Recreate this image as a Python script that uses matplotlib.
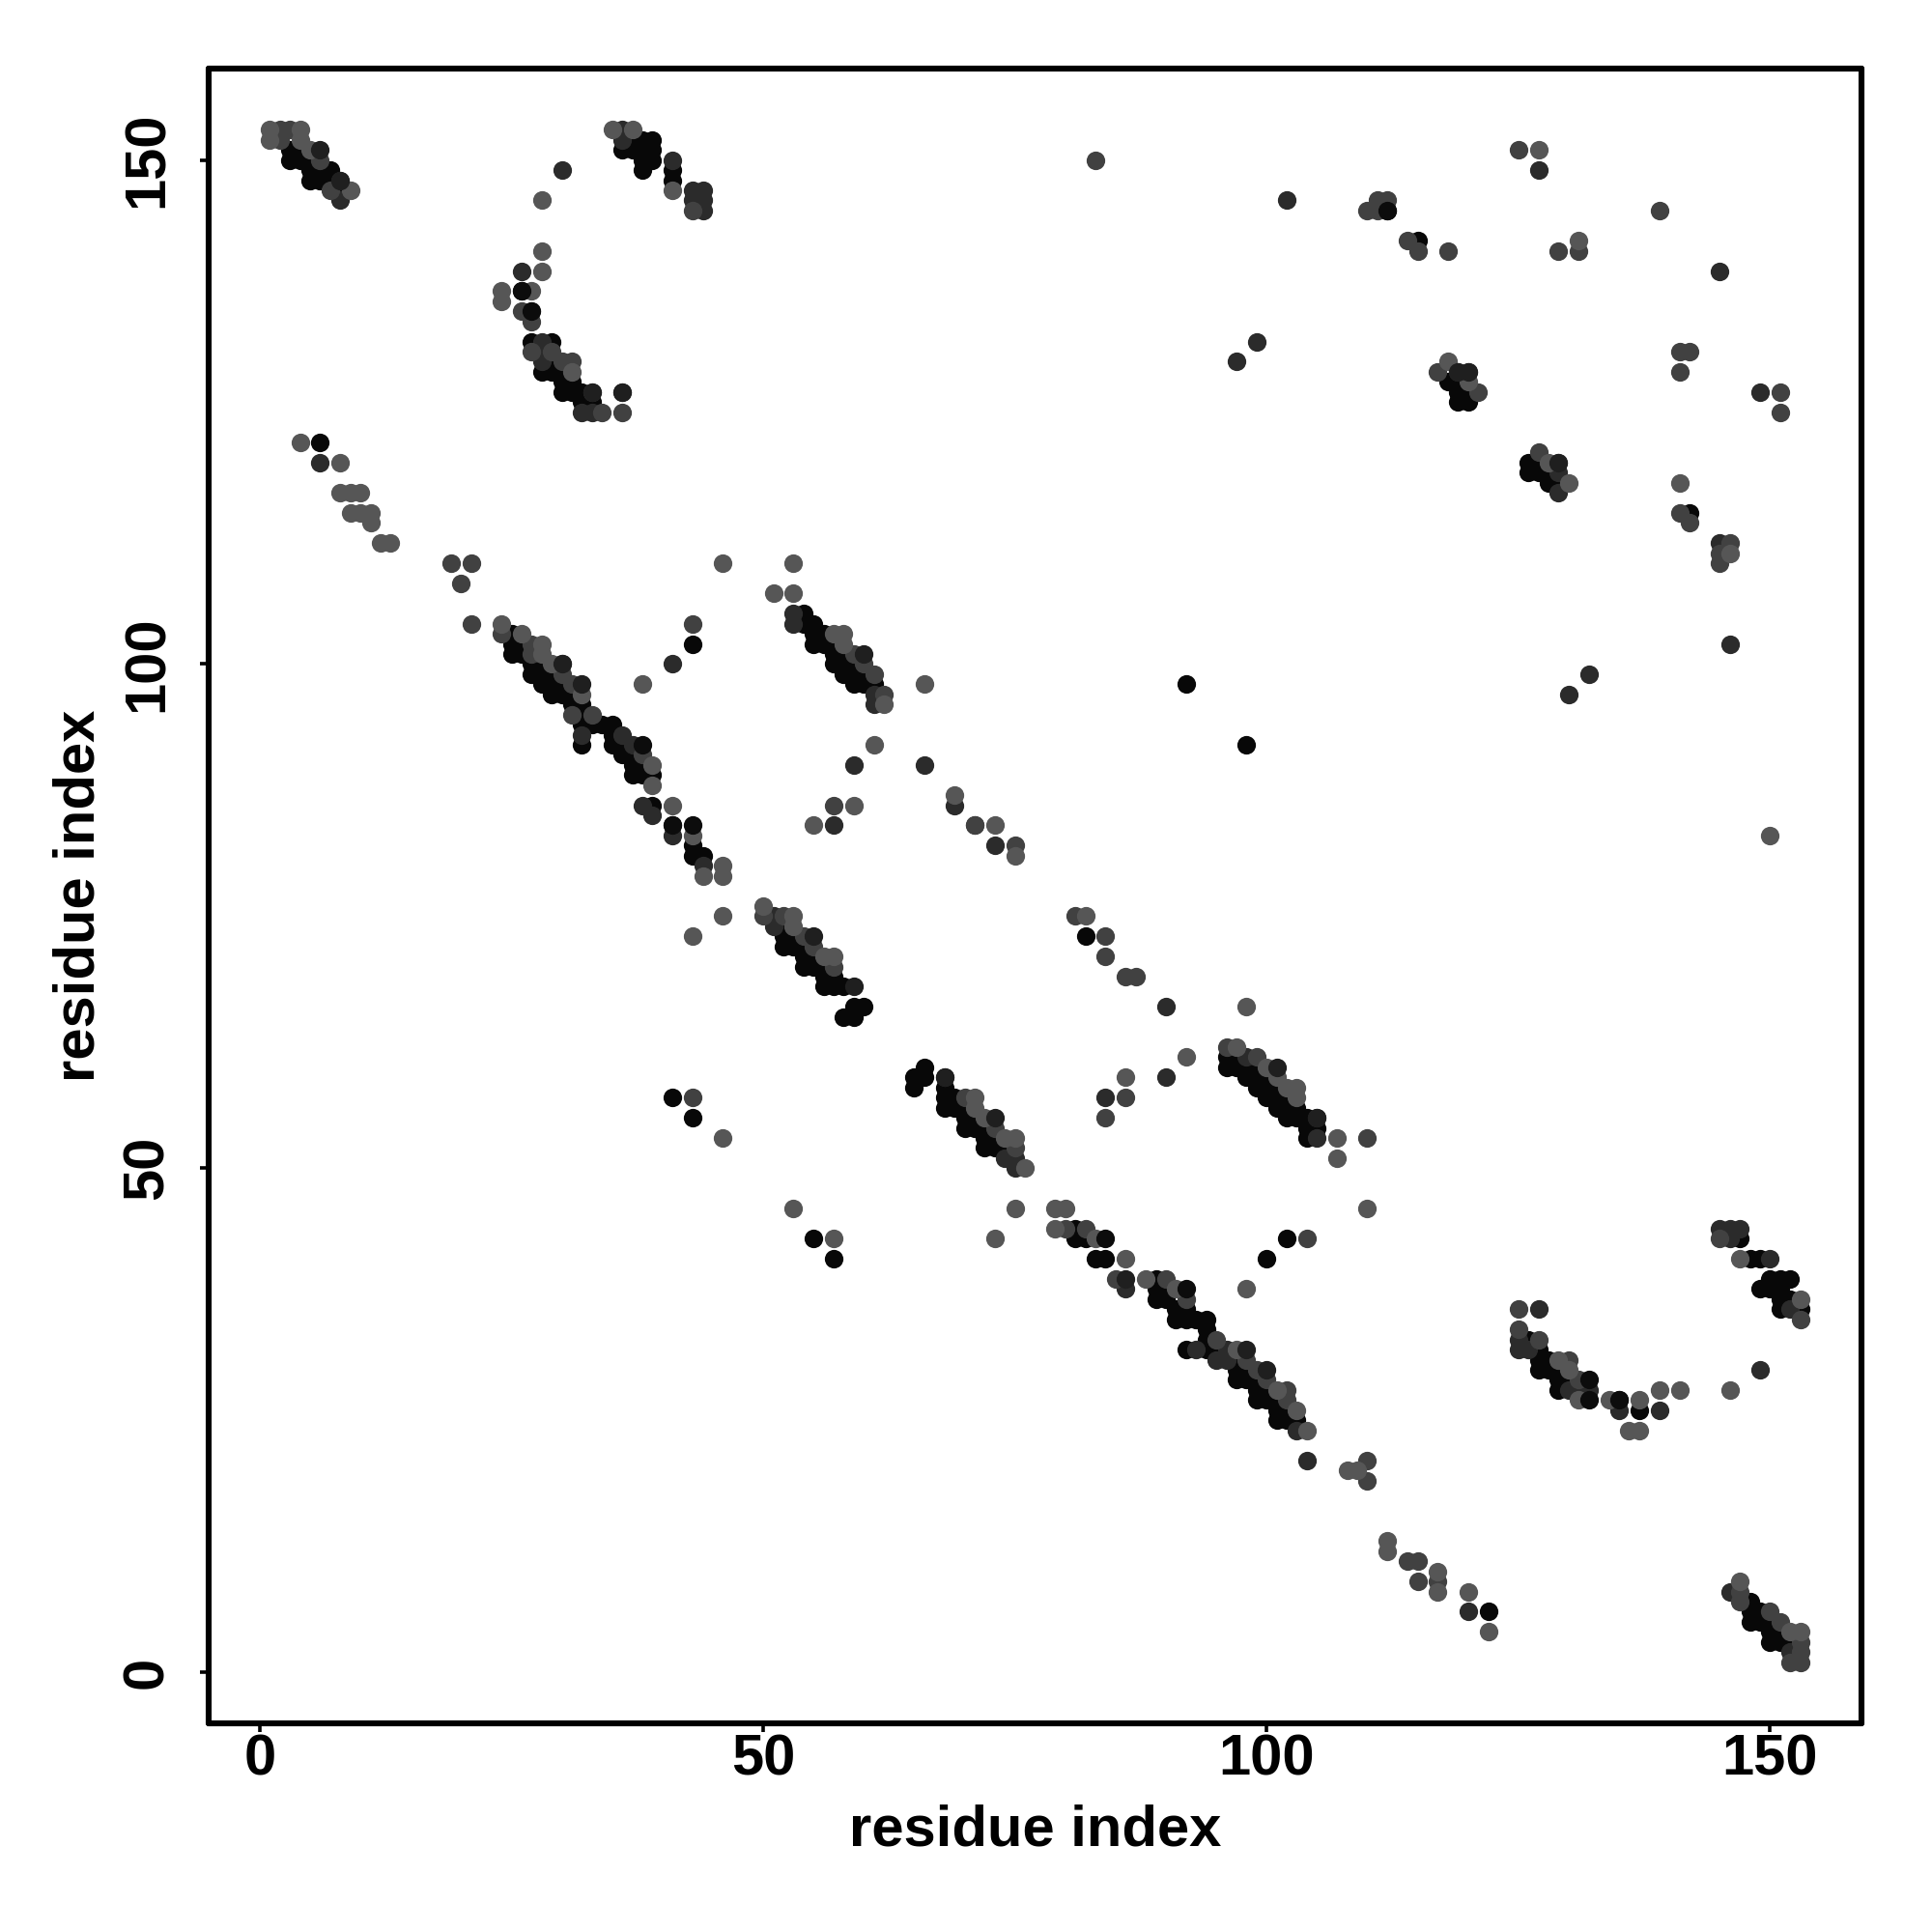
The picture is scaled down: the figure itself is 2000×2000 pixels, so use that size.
import matplotlib
matplotlib.use("Agg")
import matplotlib.pyplot as plt

plt.rcParams["font.family"] = ["Liberation Sans", "DejaVu Sans"]

# (residue i, residue j) contacts, split by how dark the dot is.
# layers are drawn black -> light, then the "top" lists go over them
black = [
    # top left
    (3, 151), (3, 150), (4, 151), (4, 150), (5, 150), (5, 149), (5, 148), (6, 149), (6, 148), (7, 149), (7, 148), (8, 147),
    (36, 151), (37, 152), (37, 151), (38, 152), (38, 151), (38, 150), (38, 149), (39, 152), (39, 151), (39, 150),
    (41, 149), (41, 148),
    (26, 137), (27, 132), (29, 132), (28, 129), (29, 130), (29, 129), (30, 129), (30, 128), (31, 128), (30, 127), (31, 127), (32, 127),
    (32, 126), (33, 126),
    (6, 122),
    # 25-39 band
    (25, 103), (25, 102), (25, 101), (26, 102), (26, 101), (27, 100), (27, 99), (28, 100), (28, 99), (28, 98), (29, 99), (29, 98), (29, 97),
    (30, 98), (30, 97), (31, 97), (31, 96), (32, 96), (32, 95), (32, 94), (32, 92), (33, 94), (34, 94), (35, 94), (35, 93), (35, 92),
    (36, 92), (36, 91), (37, 91), (37, 90), (37, 89), (38, 90), (38, 89), (39, 89), (39, 86), (41, 84), (43, 82), (43, 81), (44, 81), (43, 102),
    # 53-61 band
    (54, 105), (54, 104), (55, 104), (55, 103), (55, 102), (56, 103), (56, 102), (57, 102), (57, 101), (57, 100), (58, 101), (58, 100),
    (58, 99), (59, 100), (59, 99), (59, 98), (60, 99), (60, 98), (61, 98),
    # 50-60 band
    (52, 74), (52, 73), (52, 72), (53, 73), (53, 72), (54, 72), (54, 71), (54, 70), (55, 71), (55, 70), (56, 70), (56, 69), (56, 68),
    (57, 69), (57, 68), (58, 68), (59, 66), (60, 66), (58, 65), (59, 65),
    # 65-76 band
    (66, 60), (65, 59), (66, 59), (65, 58), (68, 58), (68, 57), (68, 56), (69, 57), (69, 56), (70, 56), (70, 55), (70, 54), (71, 55), (71, 54),
    (72, 54), (72, 53), (72, 52), (73, 53), (73, 52), (74, 52),
    # 96-105 band
    (96, 61), (96, 60), (97, 61), (97, 60), (98, 60), (98, 59), (99, 60), (99, 59), (99, 58), (100, 59), (100, 58), (100, 57), (101, 58), (101, 57), (101, 56),
    (102, 57), (102, 56), (102, 55), (103, 56), (103, 55), (104, 55), (104, 54), (104, 53), (105, 54), (102, 43), (100, 41),
    # 80-104 band
    (81, 44), (81, 43), (82, 43), (83, 41), (84, 41), (89, 39), (89, 38), (89, 37), (90, 38), (90, 37), (91, 36), (91, 35), (92, 36), (92, 35),
    (93, 35), (94, 35), (94, 34), (94, 33), (92, 32), (94, 32), (95, 32), (97, 31), (97, 30), (97, 29), (98, 30), (98, 29), (99, 29), (99, 28), (99, 27),
    (100, 28), (100, 27), (101, 27), (101, 26), (101, 25), (102, 26), (102, 25), (103, 25),
    (122, 6), (92, 98), (98, 92), (41, 57), (43, 55), (55, 43), (57, 41), (82, 73),
    # bottom right
    (126, 33), (127, 32), (127, 31), (127, 30), (128, 31), (128, 30), (129, 30), (129, 29), (129, 28), (130, 29), (137, 26), (135, 27),
    (147, 43), (148, 41), (149, 41), (150, 39), (151, 39), (152, 39), (149, 38), (150, 38), (151, 38), (151, 37), (151, 36), (152, 37), (153, 36),
    (148, 7), (148, 6), (148, 5), (149, 6), (149, 5), (150, 5), (150, 4), (150, 3), (151, 4), (151, 3), (152, 3),
    # upper right clusters
    (118, 128), (119, 128), (119, 127), (119, 126), (120, 127), (120, 126), (126, 120), (126, 119), (127, 120), (127, 119), (128, 119), (128, 118), (129, 118),
    (115, 142), (112, 145), (142, 115),
]
dark = [
    (36, 153), (36, 152), (41, 150), (44, 147), (44, 146), (44, 145), (43, 147), (43, 146), (26, 139), (28, 132), (28, 131), (28, 130),
    (32, 125), (33, 125), (36, 127), (30, 149), (8, 148), (8, 146), (6, 120),
    (38, 86), (39, 85), (41, 83), (44, 80), (32, 93), (36, 93), (37, 92), (41, 100), (53, 105), (53, 104), (61, 97), (61, 96),
    (59, 90), (66, 90), (57, 84), (69, 86), (71, 84), (73, 82), (51, 75), (51, 74), (30, 100),
    (68, 59), (74, 51), (75, 51), (75, 50), (90, 59), (84, 57), (105, 55), (105, 53), (98, 61), (90, 66),
    (93, 32), (95, 31), (96, 32), (96, 31), (86, 38), (103, 24), (104, 21), (120, 6),
    (125, 33), (125, 32), (126, 32), (127, 36), (130, 28), (131, 28), (132, 28), (135, 26), (139, 26), (149, 30),
    (145, 44), (146, 44), (147, 44), (146, 43), (150, 41), (152, 36),
    (146, 8), (152, 2), (102, 146), (145, 139), (99, 132), (97, 130), (149, 127),
    (119, 129), (120, 129), (129, 120), (129, 119), (129, 117), (145, 112), (146, 102), (130, 97), (132, 99), (127, 149),
]
mid = [
    (2, 153), (2, 152), (3, 153), (6, 150), (7, 147), (43, 145), (27, 135), (27, 134), (26, 135), (27, 131), (29, 131), (30, 130), (31, 130), (33, 127),
    (34, 125), (36, 125), (21, 110), (21, 104), (83, 150), (110, 145), (111, 146), (111, 145), (112, 146), (114, 142), (115, 141), (118, 141),
    (24, 103), (27, 102), (27, 101), (30, 99), (31, 98), (31, 95), (33, 95), (38, 91), (43, 104), (43, 57),
    (59, 101), (60, 100), (61, 99), (62, 97), (57, 86), (75, 82), (50, 75), (52, 75), (54, 73), (55, 72), (57, 70),
    (70, 57), (73, 54), (75, 52), (86, 57), (84, 55), (99, 61), (96, 62),
    (85, 39), (90, 39), (92, 37), (95, 33), (98, 31), (99, 30), (100, 29), (102, 28), (102, 27), (104, 43), (110, 21), (110, 19), (110, 53),
    (114, 11), (115, 11), (115, 9), (117, 9), (80, 44), (82, 44), (81, 75), (84, 73), (84, 71), (86, 69), (87, 69), (71, 84),
    (125, 36), (125, 34), (127, 33), (130, 31), (131, 29), (145, 43), (153, 35),
    (147, 8), (147, 7), (150, 6), (151, 5), (153, 3), (153, 2), (152, 1), (153, 1),
    (125, 151), (129, 141), (131, 141), (139, 145), (141, 131), (142, 131), (141, 129), (151, 127), (151, 125),
    (117, 129), (121, 127), (127, 121), (141, 115), (142, 114), (145, 111), (145, 110), (146, 112), (19, 110), (20, 108),
]
light = [
    (1, 153), (1, 152), (4, 153), (4, 152), (5, 151), (9, 147), (35, 153), (37, 153), (41, 147), (28, 146), (28, 141), (28, 139), (24, 137), (24, 136),
    (27, 137), (31, 129), (4, 122), (8, 120), (8, 117), (9, 117), (10, 117), (9, 115), (10, 115), (11, 115), (11, 114), (12, 112), (13, 112),
    (24, 104), (26, 103), (28, 102), (28, 101), (29, 100), (32, 97), (39, 90), (39, 88), (41, 86), (43, 83), (44, 79), (46, 80), (46, 79),
    (46, 75), (43, 73), (38, 98), (46, 110), (51, 107), (53, 107), (53, 110), (46, 53),
    (57, 103), (58, 103), (58, 102), (62, 96), (61, 92), (66, 98), (59, 86), (55, 84), (69, 87), (73, 84), (75, 81),
    (50, 76), (53, 75), (53, 74), (56, 71), (57, 71), (72, 55), (71, 57), (71, 56), (74, 53), (75, 53), (76, 50),
    (86, 59), (92, 61), (98, 66), (97, 62), (100, 60), (101, 59), (102, 58), (103, 58), (103, 57), (107, 53), (107, 51), (110, 46), (98, 38),
    (79, 46), (80, 46), (79, 44), (83, 43), (86, 41), (88, 39), (91, 38), (97, 32), (101, 28), (103, 26), (104, 24),
    (108, 20), (109, 20), (112, 13), (112, 12), (117, 10), (117, 8), (120, 8), (122, 4), (53, 46), (57, 43), (73, 43), (75, 46),
    (129, 31), (130, 30), (131, 27), (134, 27), (137, 27), (139, 28), (141, 28), (136, 24), (137, 24), (146, 28), (147, 41), (153, 37),
    (147, 9), (152, 4), (153, 4), (82, 75), (127, 151), (131, 142), (118, 130), (120, 128), (128, 120), (130, 118), (141, 118), (146, 111), (150, 83),
]
# darker dots that sit over the lighter ones
top_dark = [
    (6, 151), (30, 100), (32, 98), (60, 101), (55, 73), (59, 68), (68, 59), (73, 55), (101, 60), (86, 39), (98, 32), (100, 30), (105, 55),
    (33, 127), (8, 148), (36, 127), (119, 129), (120, 129), (129, 120),
]
top_black = [
    (26, 137), (27, 135), (38, 92), (84, 43), (92, 38), (135, 27), (132, 29), (132, 27), (41, 84), (43, 84), (112, 145),
]

tick_vals = [0, 50, 100, 150]
axis_label = "residue index"

SHADES = [
    (black, "#080808"),
    (dark, "#2b2b2b"),
    (mid, "#414141"),
    (light, "#565656"),
    (top_dark, "#1f1f1f"),
    (top_black, "#0c0c0c"),
]

fig = plt.figure(figsize=(20, 20), dpi=100)
ax = fig.add_axes([216 / 2000, 1 - 1784 / 2000, (1927 - 216) / 2000, (1784 - 71) / 2000])

for pts, colour in SHADES:
    ax.scatter([p[0] for p in pts], [p[1] for p in pts], s=192, c=colour, linewidths=0, zorder=3)

ax.set_xlim(-5.08, 159.08)
ax.set_ylim(-5.08, 159.08)

ax.set_xticks(tick_vals)
ax.set_yticks(tick_vals)
ax.tick_params(axis="x", length=6.5, width=2.6, pad=1, labelsize=43)
ax.tick_params(axis="y", length=6.5, width=2.6, pad=19, labelsize=43)
for lab in ax.get_xticklabels() + ax.get_yticklabels():
    lab.set_fontweight("bold")
for lab in ax.get_yticklabels():
    lab.set_rotation(90)
    lab.set_va("center")

for side in ax.spines.values():
    side.set_linewidth(4.4)
    side.set_capstyle("round")

fig.text(1072 / 2000, 1 - 1895 / 2000, axis_label, fontsize=43, fontweight="bold", ha="center", va="center")
fig.text(82 / 2000, 1 - 927 / 2000, axis_label, fontsize=43, fontweight="bold", ha="center", va="center", rotation=90)

fig.savefig("out.png", dpi=100, facecolor="white")
